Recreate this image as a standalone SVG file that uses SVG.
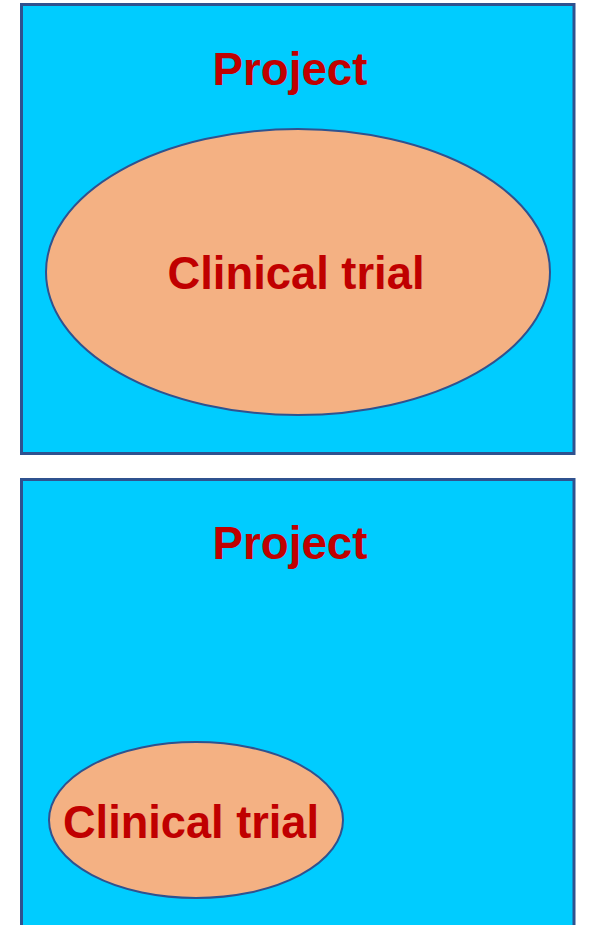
<svg xmlns="http://www.w3.org/2000/svg" width="590" height="925" viewBox="0 0 590 925">
<style>
.box{fill:#00CCFF;stroke:#2F528F;stroke-width:3}
.ell{fill:#F4B183;stroke:#2F528F;stroke-width:2}
.t{font-family:"Liberation Sans",Arial,sans-serif;font-weight:bold;font-size:46px;fill:#C00000;text-anchor:middle}
</style>
<rect width="590" height="925" fill="#FFFFFF"/>
<g id="project1">
<rect class="box" x="21.5" y="4.5" width="552.5" height="449"/>
<text class="t" x="290" y="85" textLength="155" lengthAdjust="spacingAndGlyphs">Project</text>
</g>
<g id="trial1">
<ellipse class="ell" cx="298" cy="272" rx="252" ry="143"/>
<text class="t" x="296" y="289" textLength="257" lengthAdjust="spacingAndGlyphs">Clinical trial</text>
</g>
<g id="project2">
<rect class="box" x="21.5" y="479.5" width="552.5" height="460"/>
<text class="t" x="290" y="559" textLength="155" lengthAdjust="spacingAndGlyphs">Project</text>
</g>
<g id="trial2">
<ellipse class="ell" cx="196" cy="820" rx="147" ry="78"/>
<text class="t" x="191" y="838" textLength="256" lengthAdjust="spacingAndGlyphs">Clinical trial</text>
</g>
<g id="connectors"/>
</svg>
